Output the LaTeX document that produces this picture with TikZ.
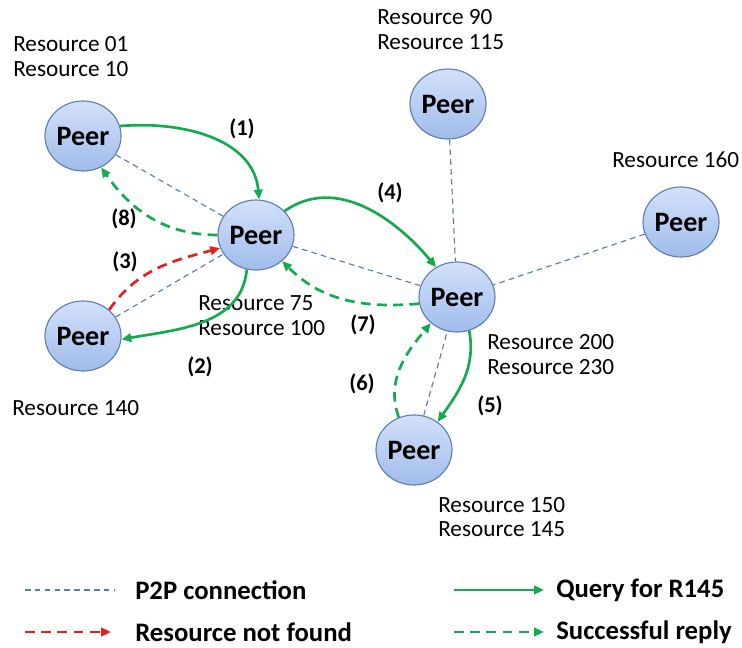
\documentclass[tikz,border=0pt]{standalone}
\usepackage{fontspec}
\setmainfont{Carlito}
\usetikzlibrary{arrows.meta}
\definecolor{peerline}{RGB}{95,125,175}
\definecolor{peertop}{RGB}{210,225,250}
\definecolor{peerbot}{RGB}{160,188,235}
\definecolor{linkblue}{RGB}{85,125,170}
\definecolor{querygreen}{RGB}{20,170,80}
\definecolor{failred}{RGB}{230,30,30}
\tikzset{
	peer/.style={ellipse, draw=peerline, thick, top color=peertop, bottom color=peerbot,
		minimum width=1.9cm, minimum height=1.75cm, inner sep=0pt,
		font=\fontsize{20}{20}\selectfont\bfseries},
	restext/.style={anchor=west, align=left, inner sep=0pt, font=\fontsize{16.5}{17.7}\selectfont},
	steplabel/.style={inner sep=0pt, font=\fontsize{16}{16}\selectfont\bfseries},
	legtext/.style={anchor=west, inner sep=0pt, font=\fontsize{19}{19}\selectfont\bfseries},
	p2p/.style={draw=linkblue, line width=0.8pt, dash pattern=on 4pt off 3pt},
	query/.style={draw=querygreen, line width=1.9pt, -{Triangle[length=7pt,width=6pt]}},
	reply/.style={query, dash pattern=on 7pt off 4.5pt},
	notfound/.style={draw=failred, line width=1.9pt, dash pattern=on 7pt off 4.5pt, -{Triangle[length=7pt,width=6pt]}}
}
\usetikzlibrary{shapes.geometric}
\begin{document}
\begin{tikzpicture}[x=0.025cm, y=0.025cm]
	\useasboundingbox (0,0) rectangle (742,-648);
	% peers
	\node[peer] (pa) at (83,-136) {Peer};
	\node[peer] (pb) at (256,-235) {Peer};
	\node[peer] (pc) at (83,-336) {Peer};
	\node[peer] (pd) at (448,-104) {Peer};
	\node[peer] (pe) at (457,-297) {Peer};
	\node[peer] (pf) at (681,-222) {Peer};
	\node[peer] (pg) at (414,-450) {Peer};
	% resources held by each peer
	\node[restext] (ra) at (13,-57) {Resource 01\\Resource 10};
	\node[restext] (rd) at (377,-30) {Resource 90\\Resource 115};
	\node[restext] (rf) at (612,-160) {Resource 160};
	\node[restext] (rb) at (198,-316) {Resource 75\\Resource 100};
	\node[restext] (rc) at (12,-408) {Resource 140};
	\node[restext] (re) at (487,-355) {Resource 200\\Resource 230};
	\node[restext] (rg) at (438,-517) {Resource 150\\Resource 145};
	% p2p links
	\draw[p2p] (pa) -- (pb);
	\draw[p2p] (pc) -- (pb);
	\draw[p2p] (pb) -- (pe);
	\draw[p2p] (pd) -- (pe);
	\draw[p2p] (pf) -- (pe);
	\draw[p2p] (pg) -- (pe);
	% query
	\draw[query] (pa.15) to[out=5, in=95] (pb.85);
	\draw[query] (pb.-105) to[out=-95, in=10] (pc.-5);
	\draw[query] (pb.40) to[out=35, in=130] (pe.125);
	\draw[query] (pe.-70) to[out=-80, in=55] (pg.50);
	\draw[notfound] (pc.45) to[out=55, in=195] (pb.200);
	% replies
	\draw[reply] (pb.180) to[out=180, in=-55] (pa.-60);
	\draw[reply] (pe.190) to[out=185, in=-45] (pb.-45);
	\draw[reply] (pg.115) to[out=110, in=-130] (pe.-135);
	% step numbers
	\node[steplabel] (s1) at (242,-129) {(1)};
	\node[steplabel] (s2) at (200,-367) {(2)};
	\node[steplabel] (s3) at (125,-262) {(3)};
	\node[steplabel] (s4) at (390,-193) {(4)};
	\node[steplabel] (s5) at (490,-406) {(5)};
	\node[steplabel] (s6) at (362,-384) {(6)};
	\node[steplabel] (s7) at (363,-325) {(7)};
	\node[steplabel] (s8) at (124,-219) {(8)};
	% legend
	\coordinate (la1) at (25,-590);
	\coordinate (la2) at (115,-590);
	\coordinate (lb1) at (25,-632);
	\coordinate (lb2) at (111,-632);
	\coordinate (lc1) at (454,-590);
	\coordinate (lc2) at (544,-590);
	\coordinate (ld1) at (454,-632);
	\coordinate (ld2) at (544,-632);
	\draw[p2p] (la1) -- (la2);
	\draw[notfound] (lb1) -- (lb2);
	\draw[query] (lc1) -- (lc2);
	\draw[reply] (ld1) -- (ld2);
	\node[legtext] (ta) at (135,-590) {P2P connection};
	\node[legtext] (tb) at (135,-632) {Resource not found};
	\node[legtext] (tc) at (556,-590) {Query for R145};
	\node[legtext] (td) at (556,-632) {Successful reply};
\end{tikzpicture}
\end{document}
